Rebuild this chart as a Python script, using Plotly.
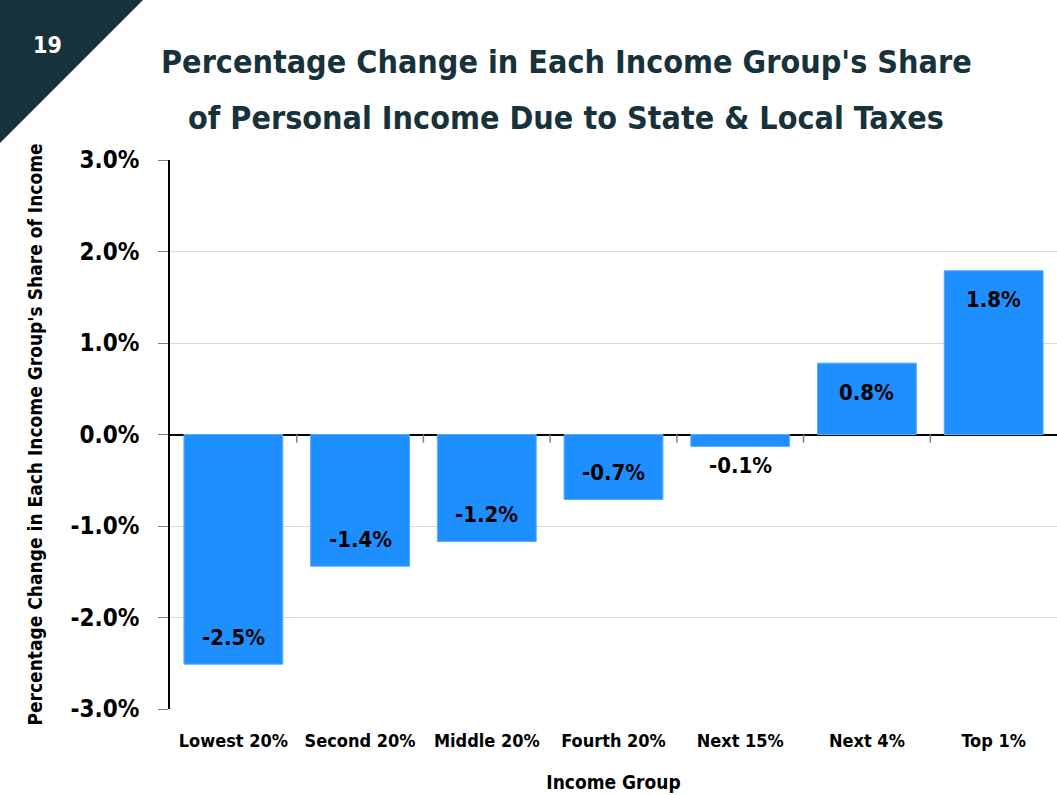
import plotly.graph_objects as go

# data
groups = ["Lowest 20%", "Second 20%", "Middle 20%", "Fourth 20%",
          "Next 15%", "Next 4%", "Top 1%"]
change = [-2.51, -1.44, -1.17, -0.71, -0.13, 0.78, 1.79]
labels = ["-2.5%", "-1.4%", "-1.2%", "-0.7%", "-0.1%", "0.8%", "1.8%"]
y_ticks = [-3, -2, -1, 0, 1, 2, 3]
y_tick_text = ["-3.0%", "-2.0%", "-1.0%", "0.0%", "1.0%", "2.0%", "3.0%"]

FONT = "DejaVu Sans Condensed, Liberation Sans Narrow, Arial Narrow, sans-serif"
DARK = "#17323a"
W, H = 1057, 795
ML, MR, MT, MB = 170, 0, 160, 86

fig = go.Figure(go.Bar(
    x=groups,
    y=change,
    marker=dict(color="#1e8fff", line=dict(color="#5aaaff", width=1)),
    hoverinfo="x+y",
))

# value labels: inside near the bar end, outside when the bar is too short
for g, v, lab in zip(groups, change, labels):
    if abs(v) < 0.3:
        shift = -19 if v < 0 else 19
    else:
        shift = 27 if v < 0 else -29
    fig.add_annotation(x=g, y=v, yshift=shift, text=lab, showarrow=False,
                       xanchor="center", yanchor="middle",
                       font=dict(family=FONT, size=22, color="black", weight="bold"))

# small tick marks on the zero line between categories
for i in range(len(groups) - 1):
    fig.add_shape(type="line", xref="x", yref="y",
                  x0=i + 0.5, x1=i + 0.5, y0=0, y1=-0.09,
                  line=dict(color="#808080", width=1.5))

fig.update_layout(
    width=W, height=H,
    margin=dict(l=ML, r=MR, t=MT, b=MB),
    paper_bgcolor="white", plot_bgcolor="white",
    font=dict(family=FONT, color="black"),
    bargap=0.22,
    showlegend=False,
    xaxis=dict(
        tickfont=dict(family=FONT, size=18, color="black", weight="bold"),
        ticks="", showline=False,
        ticklabelstandoff=19,
        title=dict(text="Income Group",
                   font=dict(family=FONT, size=19, color="black", weight="bold"),
                   standoff=25),
    ),
    yaxis=dict(
        range=[-3, 3],
        tickvals=y_ticks, ticktext=y_tick_text,
        tickfont=dict(family=FONT, size=24, color="black", weight="bold"),
        showgrid=True, gridcolor="#d9d9d9", gridwidth=1,
        zeroline=True, zerolinecolor="black", zerolinewidth=1.5,
        showline=True, linecolor="black", linewidth=1.5,
        ticks="outside", ticklen=10, tickcolor="#808080",
        ticklabelstandoff=14,
        title=dict(text="Percentage Change in Each Income Group's Share of Income",
                   font=dict(family=FONT, size=19, color="black", weight="bold"),
                   standoff=23),
    ),
)

pw, ph = W - ML - MR, H - MT - MB


def px_x(x):
    return (x - ML) / pw


def px_y(y):
    return 1 + (MT - y) / ph


# two-line title, placed by pixel position
title_lines = ["Percentage Change in Each Income Group's Share",
               "of Personal Income Due to State & Local Taxes"]
for line, yc in zip(title_lines, [62, 118]):
    fig.add_annotation(xref="paper", yref="paper", x=px_x(566), y=px_y(yc),
                       text=line, showarrow=False,
                       xanchor="center", yanchor="middle",
                       font=dict(family=FONT, size=32, color=DARK, weight="bold"))

# dark corner triangle with slide number
fig.add_shape(type="path", xref="paper", yref="paper", layer="above",
              path=f"M {px_x(0)} {px_y(0)} L {px_x(143)} {px_y(0)} "
                   f"L {px_x(0)} {px_y(143)} Z",
              fillcolor=DARK, line=dict(width=0))
fig.add_annotation(xref="paper", yref="paper", x=px_x(47), y=px_y(45),
                   xanchor="center", yanchor="middle",
                   text="19", showarrow=False,
                   font=dict(family=FONT, size=23, color="white", weight="bold"))

fig.write_html("out.html", config={"displayModeBar": False},
               post_script="document.body.style.margin='0';")
